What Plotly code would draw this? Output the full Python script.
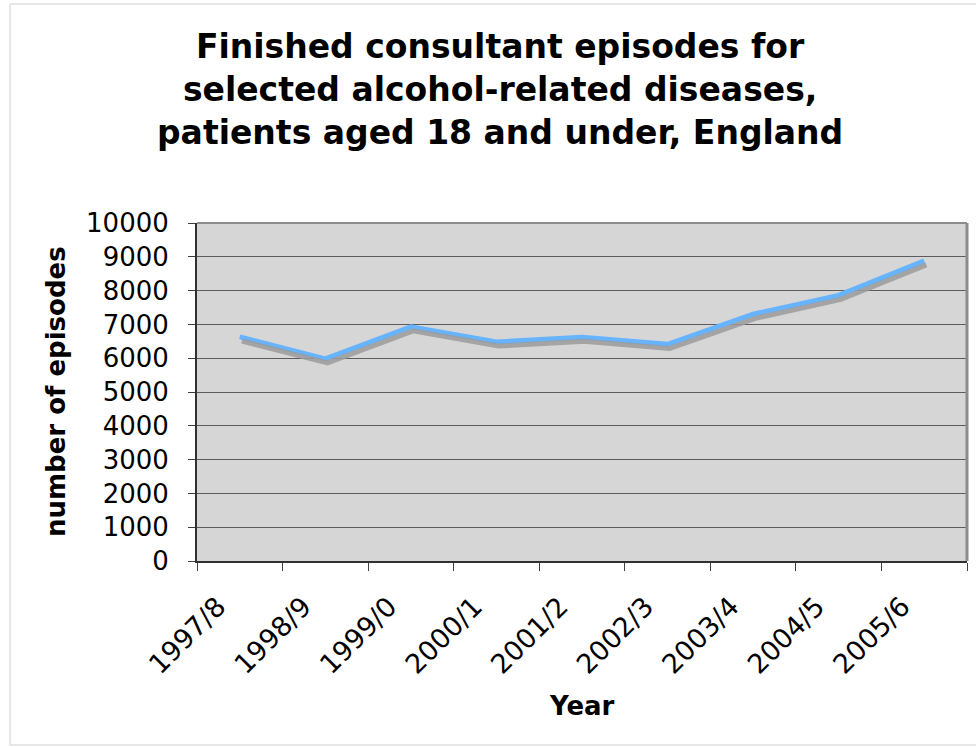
import plotly.graph_objects as go

# Financial years and finished consultant episodes (patients aged 18 and under)
years = ["1997/8", "1998/9", "1999/0", "2000/1", "2001/2",
         "2002/3", "2003/4", "2004/5", "2005/6"]
episodes = [6630, 5980, 6930, 6480, 6620, 6410, 7300, 7860, 8880]
y_ticks = [0, 1000, 2000, 3000, 4000, 5000, 6000, 7000, 8000, 9000, 10000]

FONT = "DejaVu Sans"
Y_MAX = 10000
SHADOW_DY = 120      # shadow offset in value units (drop a few px down)
SHADOW_DX = 0.025    # shadow offset in category units (a couple of px right)

# plot-area placement in pixels (used to turn pixel spots into paper coords)
L, R, T, B = 197, 967, 223, 561
W, H = 976, 747


def px(x):
    return (x - L) / (R - L)


def py(y):
    return (B - y) / (B - T)


fig = go.Figure()

# soft drop shadow under the series, drawn on offset overlay axes
fig.add_trace(go.Scatter(
    x=years, y=episodes, xaxis="x2", yaxis="y2",
    mode="lines", line=dict(color="rgba(155,155,155,0.85)", width=5),
    hoverinfo="skip", showlegend=False,
))
# main series
fig.add_trace(go.Scatter(
    x=years, y=episodes,
    mode="lines", line=dict(color="#66b3ff", width=5),
    name="episodes", showlegend=False,
))

fig.update_layout(
    width=W, height=H,
    margin=dict(l=L, r=W - R, t=T, b=H - B),
    paper_bgcolor="white",
    plot_bgcolor="#d6d6d6",
    font=dict(family=FONT, color="black"),
    xaxis=dict(
        type="category", categoryorder="array", categoryarray=years,
        range=[-0.5, len(years) - 0.5],
        tickson="boundaries", ticks="outside", ticklen=8, tickcolor="#404040",
        tickangle=-45, tickfont=dict(family=FONT, size=27, color="black"),
        ticklabelstandoff=17, ticklabelshift=-22,
        showgrid=False, showline=True, linecolor="#303030", linewidth=2,
        zeroline=False,
    ),
    yaxis=dict(
        range=[0, Y_MAX], tickvals=y_ticks, tickformat="d",
        ticks="outside", ticklen=7, tickcolor="#404040",
        tickfont=dict(family=FONT, size=26, color="black"),
        ticklabelstandoff=14,
        showgrid=True, gridcolor="#5c5c5c", gridwidth=1,
        showline=True, linecolor="#303030", linewidth=2,
        zeroline=False,
    ),
    xaxis2=dict(
        type="category", categoryorder="array", categoryarray=years,
        range=[-0.5 - SHADOW_DX, len(years) - 0.5 - SHADOW_DX],
        overlaying="x", visible=False,
    ),
    yaxis2=dict(
        range=[SHADOW_DY, Y_MAX + SHADOW_DY],
        overlaying="y", visible=False,
    ),
    annotations=[
        # chart title
        dict(text="Finished consultant episodes for<br>selected alcohol-related diseases,<br>patients aged 18 and under, England",
             xref="paper", yref="paper", x=px(500), y=py(25),
             xanchor="center", yanchor="top", showarrow=False, align="center",
             font=dict(family=FONT, size=33, color="black", weight="bold")),
        # axis titles
        dict(text="number of episodes", textangle=-90,
             xref="paper", yref="paper", x=px(56), y=py(392),
             xanchor="center", yanchor="middle", showarrow=False,
             font=dict(family=FONT, size=26, color="black", weight="bold")),
        dict(text="Year",
             xref="paper", yref="paper", x=px(582), y=py(706),
             xanchor="center", yanchor="middle", showarrow=False,
             font=dict(family=FONT, size=26, color="black", weight="bold")),
    ],
    shapes=[
        # top and right edges of the plot frame
        dict(type="line", xref="paper", yref="paper", x0=0, x1=1, y0=1, y1=1,
             line=dict(color="#8c8c8c", width=2), layer="above"),
        dict(type="line", xref="paper", yref="paper", x0=1, x1=1, y0=0, y1=1,
             line=dict(color="#8c8c8c", width=3), layer="above"),
        # thin outer chart border
        dict(type="rect", xref="paper", yref="paper",
             x0=px(10), x1=px(990), y0=py(745), y1=py(4),
             line=dict(color="#cfcfcf", width=1), layer="below"),
    ],
)

fig.write_html("out.html")
